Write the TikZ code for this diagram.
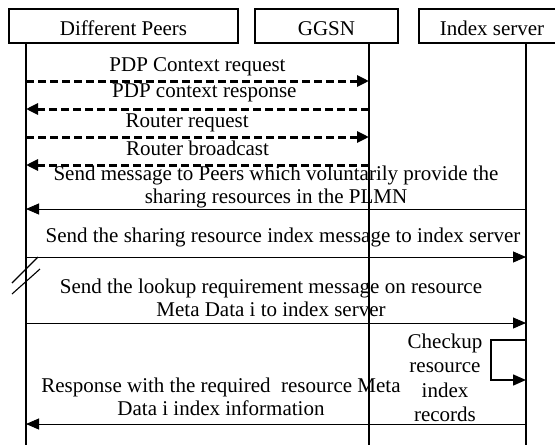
\documentclass[tikz,border=0pt]{standalone}
\usepackage{fontspec}
\setmainfont{Liberation Serif}
\usetikzlibrary{arrows.meta}

\begin{document}
\begin{tikzpicture}[x=1pt, y=-1pt, font=\fontsize{21}{23}\selectfont,
  actor/.style={rectangle, draw, line width=1.2pt, minimum height=34pt, inner sep=0pt, text height=18pt, text depth=0pt},
  lifeline/.style={line width=1.8pt},
  dmsg/.style={line width=3pt, dash pattern=on 8pt off 4pt, -{Triangle[length=12pt,width=11pt]}},
  smsg/.style={line width=0.9pt, -{Triangle[length=13pt,width=11pt]}},
  msg/.style={anchor=south, inner sep=0pt, align=center, yshift=1pt, execute at end node=\strut}]

	\useasboundingbox (0,0) rectangle (555,445);

	\node [actor, minimum width=229pt] (peers) at (123.5,26) {Different Peers};
	\node [actor, minimum width=143pt] (ggsn) at (326.5,26) {GGSN};
	\node [actor, minimum width=146pt] (index) at (492,26) {Index server};

	% lifelines
	\coordinate (peers end) at (26,445);
	\coordinate (ggsn end) at (369,445);
	\coordinate (index end) at (526,445);
	\draw [lifeline] (peers.south -| peers end) -- (peers end);
	\draw [lifeline] (ggsn.south -| ggsn end) -- (ggsn end);
	\draw [lifeline] (index.south -| index end) -- (index end);

	% one row of points per message
	\foreach \row/\y in {1/81, 2/109, 3/137, 4/165, 5/209, 6/257, 7/323, 8/424, 9/340, 10/380} {
		\coordinate (p\row) at (26,\y);
		\coordinate (g\row) at (369,\y);
		\coordinate (s\row) at (526,\y);
	}

	% draw messages
	\draw [dmsg] (p1) -- node[msg] {PDP Context request} (g1);
	\draw [dmsg] (g2) -- node[msg, pos=0.48, yshift=2pt] {PDP context response} (p2);
	\draw [dmsg] (p3) -- node[msg, pos=0.47] {Router request} (g3);
	\draw [dmsg] (g4) -- node[msg] {Router broadcast} (p4);
	\draw [smsg] (s5) -- node[msg, yshift=-2.5pt] {Send message to Peers which voluntarily provide the\\sharing resources in the PLMN} (p5);
	\draw [smsg] (p6) -- node[msg, pos=0.514, yshift=6pt] {Send the sharing resource index message to index server} (s6);
	\draw [smsg] (p7) -- node[msg, pos=0.49, yshift=-2pt] {Send the lookup requirement message on resource\\Meta Data i to index server} (s7);
	\draw [line width=1.5pt, -{Triangle[length=13pt,width=11pt]}] (s9) -- ++(-35,0) |- (s10);
	\node [anchor=north, align=center, inner sep=0pt, font=\fontsize{21}{24.5}\selectfont] (check) at (445,331) {\strut Checkup\\resource\\index\\records};
	\draw [smsg] (s8) -- node[msg, pos=0.61] {Response with the required\ \ resource Meta\\Data i index information} (p8);

	% break in the peers lifeline
	\draw [line width=1.1pt] (12,283) -- (38,257);
	\draw [line width=1.1pt] (12,294) -- (40,269);
\end{tikzpicture}
\end{document}
